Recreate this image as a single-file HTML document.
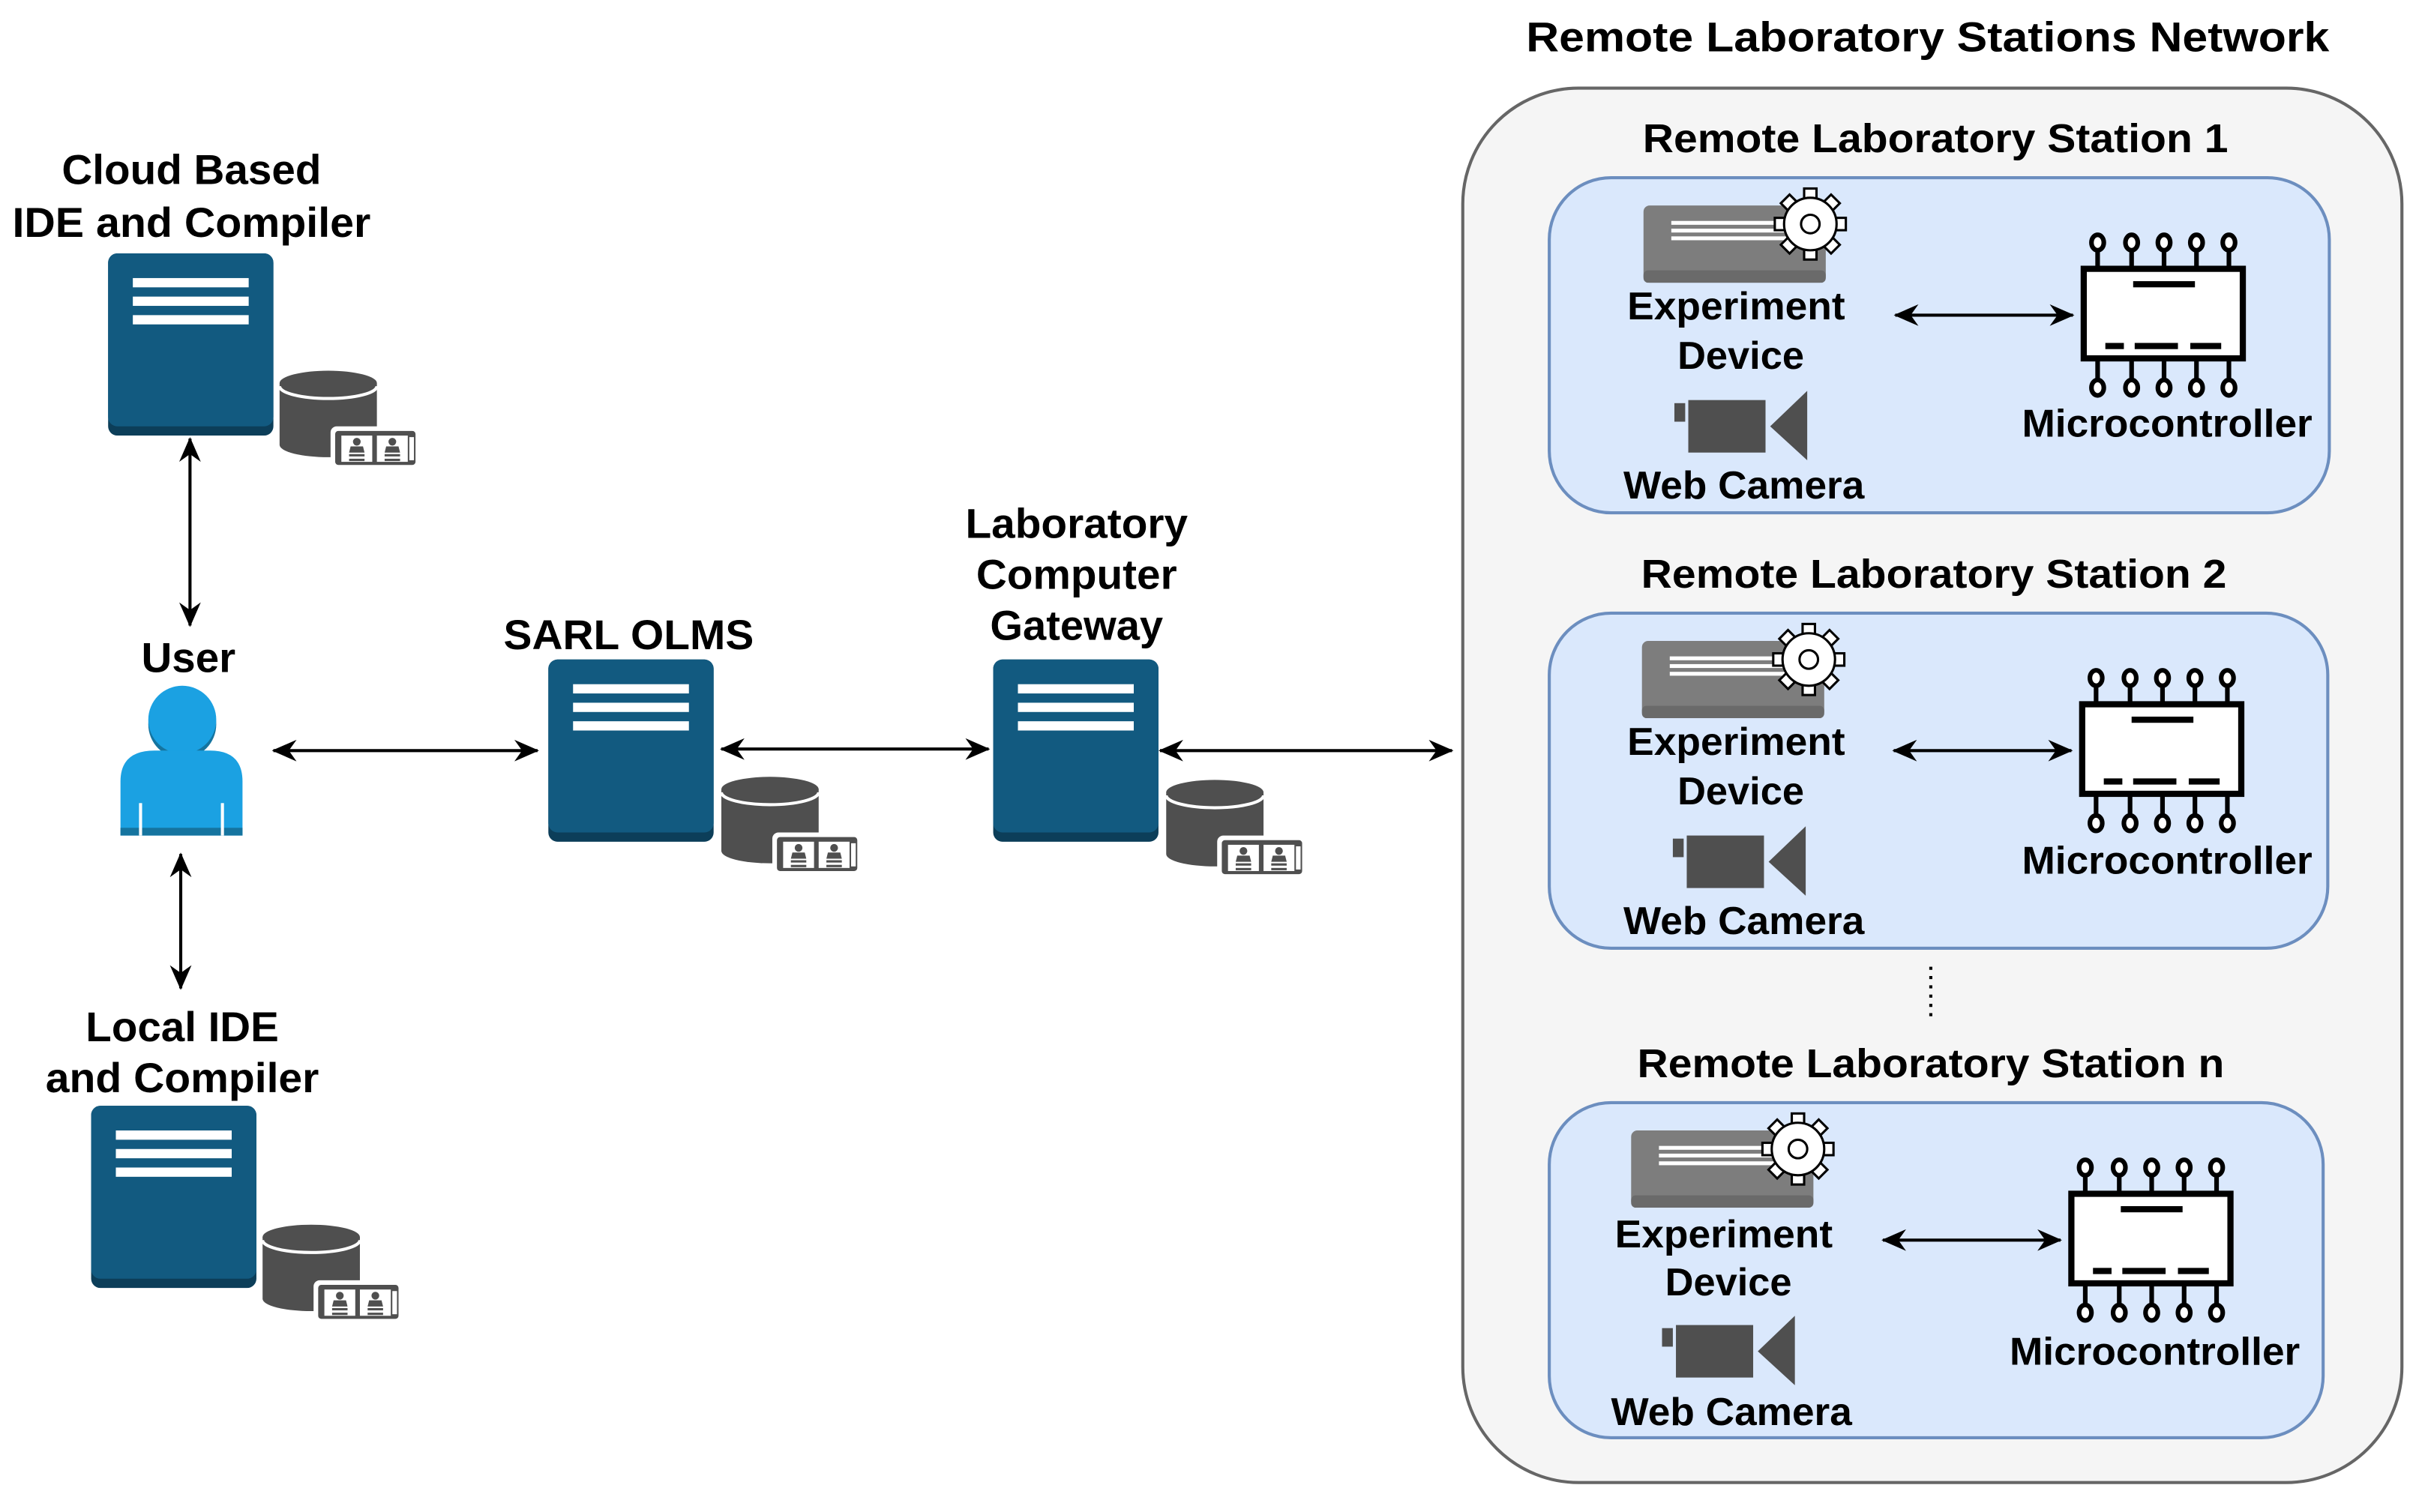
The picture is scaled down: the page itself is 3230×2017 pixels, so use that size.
<!DOCTYPE html>
<html><head><meta charset="utf-8"><style>
html,body{margin:0;padding:0;background:#fff;}
svg{display:block;}
text{font-family:"Liberation Sans",Arial,sans-serif;font-weight:bold;fill:#000;}
</style></head><body>
<svg width="3230" height="2017" viewBox="0 0 1568 979" xmlns="http://www.w3.org/2000/svg">
<defs>
<marker id="ah" viewBox="0 0 16 14" refX="15" refY="7" markerWidth="16" markerHeight="14" markerUnits="userSpaceOnUse" orient="auto-start-reverse">
<path d="M0,0 L16,7 L0,14 L5,7 Z" fill="#000"/>
</marker>
<g id="srv">
<rect x="0" y="0" width="107" height="118" rx="6" fill="#0c3e59"/>
<rect x="0" y="0" width="107" height="112" rx="6" fill="#125a80"/>
<rect x="16" y="16" width="75" height="6" fill="#fff"/>
<rect x="16" y="28" width="75" height="6" fill="#fff"/>
<rect x="16" y="40" width="75" height="6" fill="#fff"/>
</g>
<g id="db">
<path d="M0,8 L0,48 A31.5,8 0 0 0 63,48 L63,8 Z" fill="#4f4f4f"/>
<ellipse cx="31.5" cy="8" rx="31.5" ry="8" fill="#4f4f4f"/>
<path d="M0,10 A31.5,8 0 0 0 63,10" fill="none" stroke="#fff" stroke-width="2"/>
<rect x="33" y="36" width="58" height="28" rx="4" fill="#fff"/>
<rect x="36" y="39" width="52" height="22" rx="2" fill="#4f4f4f"/>
<rect x="40" y="42" width="20" height="17" fill="#fff"/>
<rect x="63" y="42" width="20" height="17" fill="#fff"/>
<rect x="84" y="43" width="3" height="15" fill="#fff"/>
<circle cx="50" cy="46" r="2.5" fill="#4f4f4f"/><path d="M45,53 L46,49 L54,49 L55,53 Z" fill="#4f4f4f"/>
<rect x="45" y="54" width="10" height="1.5" fill="#4f4f4f"/><rect x="45" y="57" width="10" height="1.5" fill="#4f4f4f"/>
<circle cx="73" cy="46" r="2.5" fill="#4f4f4f"/><path d="M68,53 L69,49 L77,49 L78,53 Z" fill="#4f4f4f"/>
<rect x="68" y="54" width="10" height="1.5" fill="#4f4f4f"/><rect x="68" y="57" width="10" height="1.5" fill="#4f4f4f"/>
</g>
<g id="station">
<!-- experiment device -->
<rect x="1064" y="133" width="118" height="50" rx="4" fill="#7d7d7d"/>
<rect x="1064" y="175" width="118" height="8" rx="3" fill="#6a6a6a"/>
<rect x="1082" y="143" width="80" height="2.5" fill="#fff"/>
<rect x="1082" y="148" width="80" height="2.5" fill="#fff"/>
<rect x="1082" y="153" width="80" height="2.5" fill="#fff"/>
<g transform="translate(1172,145)" fill="#fff" stroke="#000" stroke-width="1.5">
<g id="teeth">
<rect x="-4" y="-23" width="8" height="8"/>
<rect x="-4" y="15" width="8" height="8"/>
<rect x="-23" y="-4" width="8" height="8"/>
<rect x="15" y="-4" width="8" height="8"/>
</g>
<use href="#teeth" transform="rotate(45)"/>
<circle r="17"/>
<circle r="6" fill="#fff"/>
</g>
<!-- camera -->
<rect x="1084" y="261" width="7" height="12" fill="#4f4f4f"/>
<rect x="1093" y="259" width="50" height="34" fill="#4f4f4f"/>
<path d="M1146,276 L1170,253 L1170,298 Z" fill="#4f4f4f"/>
<!-- arrow -->
<line x1="1227" y1="204" x2="1342" y2="204" stroke="#000" stroke-width="2" marker-start="url(#ah)" marker-end="url(#ah)"/>
<!-- microcontroller -->
<g stroke="#000" stroke-width="3" fill="#fff">
<line x1="1358" y1="162" x2="1358" y2="174"/><line x1="1380" y1="162" x2="1380" y2="174"/><line x1="1401" y1="162" x2="1401" y2="174"/><line x1="1422" y1="162" x2="1422" y2="174"/><line x1="1443" y1="162" x2="1443" y2="174"/>
<line x1="1358" y1="232" x2="1358" y2="246"/><line x1="1380" y1="232" x2="1380" y2="246"/><line x1="1401" y1="232" x2="1401" y2="246"/><line x1="1422" y1="232" x2="1422" y2="246"/><line x1="1443" y1="232" x2="1443" y2="246"/>
<ellipse cx="1358" cy="157" rx="4" ry="5"/><ellipse cx="1380" cy="157" rx="4" ry="5"/><ellipse cx="1401" cy="157" rx="4" ry="5"/><ellipse cx="1422" cy="157" rx="4" ry="5"/><ellipse cx="1443" cy="157" rx="4" ry="5"/>
<ellipse cx="1358" cy="251" rx="4" ry="5"/><ellipse cx="1380" cy="251" rx="4" ry="5"/><ellipse cx="1401" cy="251" rx="4" ry="5"/><ellipse cx="1422" cy="251" rx="4" ry="5"/><ellipse cx="1443" cy="251" rx="4" ry="5"/>
<rect x="1349" y="174" width="103" height="58" stroke-width="4"/>
</g>
<rect x="1381" y="182" width="40" height="4" fill="#000"/>
<rect x="1363" y="222" width="12" height="4" fill="#000"/>
<rect x="1382" y="222" width="28" height="4" fill="#000"/>
<rect x="1418" y="222" width="20" height="4" fill="#000"/>
</g>
</defs>

<text x="1248" y="24" font-size="27" text-anchor="middle" dominant-baseline="central" textLength="520" lengthAdjust="spacingAndGlyphs">Remote Laboratory Stations Network</text>
<rect x="947" y="57" width="608" height="903" rx="75" fill="#f5f5f5" stroke="#666" stroke-width="2"/>

<text x="1253" y="90" font-size="26" text-anchor="middle" dominant-baseline="central" textLength="379" lengthAdjust="spacingAndGlyphs">Remote Laboratory Station 1</text>
<rect x="1003" y="115" width="505" height="217" rx="40" fill="#dae8fc" stroke="#6c8ebf" stroke-width="2"/>
<use href="#station"/>
<text x="1124" y="198" font-size="25" text-anchor="middle" dominant-baseline="central" textLength="141" lengthAdjust="spacingAndGlyphs">Experiment</text>
<text x="1127" y="230" font-size="25" text-anchor="middle" dominant-baseline="central" textLength="82" lengthAdjust="spacingAndGlyphs">Device</text>
<text x="1129" y="314" font-size="25" text-anchor="middle" dominant-baseline="central" textLength="156" lengthAdjust="spacingAndGlyphs">Web Camera</text>
<text x="1403" y="274" font-size="25" text-anchor="middle" dominant-baseline="central" textLength="188" lengthAdjust="spacingAndGlyphs">Microcontroller</text>

<text x="1252" y="372" font-size="26" text-anchor="middle" dominant-baseline="central" textLength="379" lengthAdjust="spacingAndGlyphs">Remote Laboratory Station 2</text>
<rect x="1003" y="397" width="504" height="217" rx="40" fill="#dae8fc" stroke="#6c8ebf" stroke-width="2"/>
<use href="#station" transform="translate(-1,282)"/>
<text x="1124" y="480" font-size="25" text-anchor="middle" dominant-baseline="central" textLength="141" lengthAdjust="spacingAndGlyphs">Experiment</text>
<text x="1127" y="512" font-size="25" text-anchor="middle" dominant-baseline="central" textLength="82" lengthAdjust="spacingAndGlyphs">Device</text>
<text x="1129" y="596" font-size="25" text-anchor="middle" dominant-baseline="central" textLength="156" lengthAdjust="spacingAndGlyphs">Web Camera</text>
<text x="1403" y="557" font-size="25" text-anchor="middle" dominant-baseline="central" textLength="188" lengthAdjust="spacingAndGlyphs">Microcontroller</text>

<line x1="1250" y1="626" x2="1250" y2="662" stroke="#000" stroke-width="2" stroke-dasharray="2,4"/>

<text x="1250" y="689" font-size="26" text-anchor="middle" dominant-baseline="central" textLength="380" lengthAdjust="spacingAndGlyphs">Remote Laboratory Station n</text>
<rect x="1003" y="714" width="501" height="217" rx="40" fill="#dae8fc" stroke="#6c8ebf" stroke-width="2"/>
<use href="#station" transform="translate(-8,599)"/>
<text x="1116" y="799" font-size="25" text-anchor="middle" dominant-baseline="central" textLength="141" lengthAdjust="spacingAndGlyphs">Experiment</text>
<text x="1119" y="830" font-size="25" text-anchor="middle" dominant-baseline="central" textLength="82" lengthAdjust="spacingAndGlyphs">Device</text>
<text x="1121" y="914" font-size="25" text-anchor="middle" dominant-baseline="central" textLength="156" lengthAdjust="spacingAndGlyphs">Web Camera</text>
<text x="1395" y="875" font-size="25" text-anchor="middle" dominant-baseline="central" textLength="188" lengthAdjust="spacingAndGlyphs">Microcontroller</text>

<!-- left side -->
<text x="124" y="110" font-size="27" text-anchor="middle" dominant-baseline="central" textLength="168" lengthAdjust="spacingAndGlyphs">Cloud Based</text>
<text x="124" y="144" font-size="27" text-anchor="middle" dominant-baseline="central" textLength="232" lengthAdjust="spacingAndGlyphs">IDE and Compiler</text>
<use href="#srv" transform="translate(70,164)"/>
<use href="#db" transform="translate(181,240)"/>
<line x1="123" y1="284" x2="123" y2="405" stroke="#000" stroke-width="2" marker-start="url(#ah)" marker-end="url(#ah)"/>

<text x="122" y="426" font-size="27" text-anchor="middle" dominant-baseline="central" textLength="61" lengthAdjust="spacingAndGlyphs">User</text>
<circle cx="118" cy="469" r="22" fill="#15749f"/>
<circle cx="118" cy="466" r="22" fill="#1ba1e2"/>
<path d="M78,541 L78,506 Q78,486 100,486 L136,486 Q157,486 157,506 L157,541 Z" fill="#1ba1e2"/>
<rect x="78" y="536" width="79" height="5" fill="#15749f"/>
<rect x="90" y="520" width="2" height="21" fill="#fff"/>
<rect x="143" y="520" width="2" height="21" fill="#fff"/>
<line x1="117" y1="553" x2="117" y2="640" stroke="#000" stroke-width="2" marker-start="url(#ah)" marker-end="url(#ah)"/>

<text x="118" y="665" font-size="27" text-anchor="middle" dominant-baseline="central" textLength="125" lengthAdjust="spacingAndGlyphs">Local IDE</text>
<text x="118" y="698" font-size="27" text-anchor="middle" dominant-baseline="central" textLength="177" lengthAdjust="spacingAndGlyphs">and Compiler</text>
<use href="#srv" transform="translate(59,716)"/>
<use href="#db" transform="translate(170,793)"/>

<line x1="177" y1="486" x2="348" y2="486" stroke="#000" stroke-width="2" marker-start="url(#ah)" marker-end="url(#ah)"/>

<text x="407" y="411" font-size="27" text-anchor="middle" dominant-baseline="central" textLength="162" lengthAdjust="spacingAndGlyphs">SARL OLMS</text>
<use href="#srv" transform="translate(355,427)"/>
<use href="#db" transform="translate(467,503)"/>
<line x1="467" y1="485" x2="640" y2="485" stroke="#000" stroke-width="2" marker-start="url(#ah)" marker-end="url(#ah)"/>

<text x="697" y="339" font-size="27" text-anchor="middle" dominant-baseline="central" textLength="144" lengthAdjust="spacingAndGlyphs">Laboratory</text>
<text x="697" y="372" font-size="27" text-anchor="middle" dominant-baseline="central" textLength="130" lengthAdjust="spacingAndGlyphs">Computer</text>
<text x="697" y="405" font-size="27" text-anchor="middle" dominant-baseline="central" textLength="112" lengthAdjust="spacingAndGlyphs">Gateway</text>
<use href="#srv" transform="translate(643,427)"/>
<use href="#db" transform="translate(755,505)"/>
<line x1="751" y1="486" x2="940" y2="486" stroke="#000" stroke-width="2" marker-start="url(#ah)" marker-end="url(#ah)"/>
</svg>
</body></html>
